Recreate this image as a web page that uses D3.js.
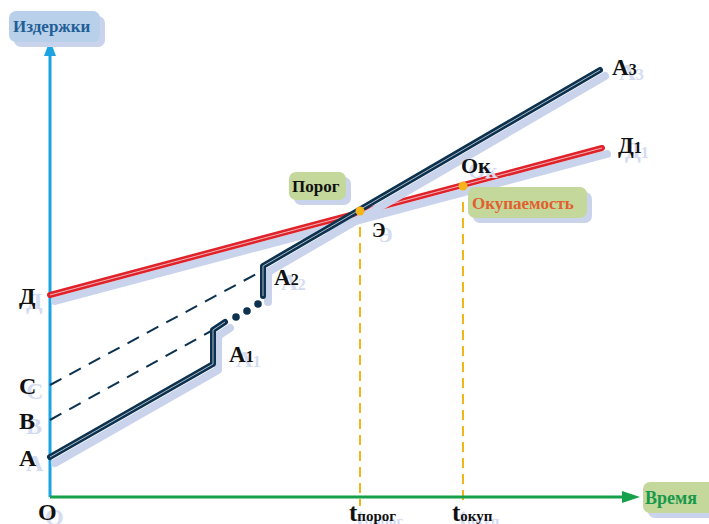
<!DOCTYPE html>
<html>
<head>
<meta charset="utf-8">
<script src="https://cdn.jsdelivr.net/npm/d3@7"></script>
<style>
body { margin: 0; background: #fff; }
text { font-family: "Liberation Serif", "DejaVu Serif", serif; font-weight: bold; }
</style>
</head>
<body>
<div id="chart"></div>
<script>
var svgWidth = 709;
var svgHeight = 524;

// scheme values (conventional units: time / costs)
var levelNames = ["Д", "С", "В", "А"];
var levelValues = [20.2, 11.2, 7.7, 4.0];

var stepLine1 = [[0, 4.0], [16.3, 13.3], [16.3, 16.7], [17.5, 17.5]];
var stepDots = [[18.6, 18.0], [19.7, 18.6], [20.8, 19.3]];
var stepLine2 = [[21.3, 20.1], [21.3, 23.1], [55.0, 42.7]];
var incomeLine = [[0, 20.2], [55.2, 34.9]];
var dashC = [[0, 11.2], [21.0, 22.5]];
var dashB = [[0, 7.7], [16.3, 16.7]];

var keyTimes = [31.0, 41.3];
var keyCosts = [28.6, 31.1];
var keyTickSubs = ["порог", "окуп"];

var xScale = d3.scaleLinear().domain([0, 59]).range([50, 640]);
var yScale = d3.scaleLinear().domain([0, 47.7]).range([497, 20]);

var navy = "#0c3250";
var red = "#e0232b";
var shade = "#c9d3ec";
var gold = "#f4b41a";

var svg = d3.select("#chart")
    .append("svg")
    .attr("width", svgWidth)
    .attr("height", svgHeight);

var line = d3.line()
    .x(d => xScale(d[0]))
    .y(d => yScale(d[1]));

function labelBox(x, y, w, h, fill) {
    svg.append("rect")
        .attr("x", x + 5).attr("y", y + 5)
        .attr("width", w).attr("height", h)
        .attr("rx", 7)
        .attr("fill", shade);
    svg.append("rect")
        .attr("x", x).attr("y", y)
        .attr("width", w).attr("height", h)
        .attr("rx", 7)
        .attr("fill", fill);
}

function label(x, y, main, sub, size, subSize, color) {
    [[7, 5, "#d3dcf0"], [0, 0, color]].forEach(function(s) {
        var t = svg.append("text")
            .attr("x", x + s[0])
            .attr("y", y + s[1])
            .attr("fill", s[2])
            .style("font-size", size + "px");
        t.append("tspan").text(main);
        if (sub) {
            t.append("tspan").style("font-size", subSize + "px").text(sub);
        }
    });
}

function thickLine(pts, color) {
    svg.append("path")
        .attr("d", line(pts))
        .attr("transform", "translate(5,6)")
        .attr("fill", "none")
        .attr("stroke", shade)
        .attr("stroke-width", 8)
        .attr("stroke-linejoin", "round")
        .attr("stroke-linecap", "round");
    svg.append("path")
        .attr("d", line(pts))
        .attr("fill", "none")
        .attr("stroke", color)
        .attr("stroke-width", 6)
        .attr("stroke-linejoin", "round")
        .attr("stroke-linecap", "round");
    svg.append("path")
        .attr("d", line(pts))
        .attr("fill", "none")
        .attr("stroke", "#f4f4f4")
        .attr("stroke-width", 0.7);
}

// axis arrows
var x0 = xScale(0), y0 = yScale(0);
svg.append("line")
    .attr("x1", x0).attr("y1", y0)
    .attr("x2", x0).attr("y2", 50)
    .attr("stroke", "#1ca3e2").attr("stroke-width", 3);
svg.append("path")
    .attr("d", `M${x0 - 6},56 L${x0},40 L${x0 + 6},56 Z`)
    .attr("fill", "#1ca3e2");

// yellow guides
keyTimes.forEach(function(t, i) {
    svg.append("line")
        .attr("x1", xScale(t)).attr("x2", xScale(t))
        .attr("y1", yScale(keyCosts[i])).attr("y2", y0 + 9)
        .attr("stroke", gold)
        .attr("stroke-width", 2)
        .attr("stroke-dasharray", "10,6");
});

svg.append("line")
    .attr("x1", x0).attr("y1", y0)
    .attr("x2", 626).attr("y2", y0)
    .attr("stroke", "#17a04a").attr("stroke-width", 3);
svg.append("path")
    .attr("d", `M622,${y0 - 6} L640,${y0} L622,${y0 + 6} Z`)
    .attr("fill", "#17a04a");

// dashed reference lines
[dashC, dashB].forEach(function(d) {
    svg.append("path")
        .attr("d", line(d))
        .attr("fill", "none")
        .attr("stroke", navy)
        .attr("stroke-width", 2)
        .attr("stroke-dasharray", "13,9");
});

thickLine(incomeLine, red);
thickLine(stepLine1, navy);
thickLine(stepLine2, navy);

svg.selectAll(".gapdot")
    .data(stepDots)
    .enter()
    .append("circle")
    .attr("cx", d => xScale(d[0]))
    .attr("cy", d => yScale(d[1]))
    .attr("r", 3.8)
    .attr("fill", navy);

keyTimes.forEach(function(t, i) {
    svg.append("circle")
        .attr("cx", xScale(t))
        .attr("cy", yScale(keyCosts[i]))
        .attr("r", 4.5)
        .attr("fill", gold);
});

// boxes
labelBox(9, 11, 91, 31, "#b9d0ea");
svg.append("text")
    .attr("x", 13).attr("y", 32)
    .attr("fill", "#1f5e96")
    .style("font-size", "17px")
    .text("Издержки");

labelBox(643, 482, 75, 31, "#c4d89c");
svg.append("text")
    .attr("x", 645).attr("y", 504)
    .attr("fill", "#18994a")
    .style("font-size", "18px")
    .text("Время");

labelBox(289, 172, 57, 28, "#c4d89c");
svg.append("text")
    .attr("x", 292).attr("y", 192)
    .attr("fill", "#111")
    .style("font-size", "17px")
    .text("Порог");

labelBox(468, 187, 119, 31, "#c4d89c");
svg.append("text")
    .attr("x", 472).attr("y", 209)
    .attr("fill", "#e0602e")
    .style("font-size", "17px")
    .text("Окупаемость");

// level labels on the cost axis
levelNames.forEach(function(n, i) {
    label(19, yScale(levelValues[i]) + 9, n, null, 24, 0, "#111");
});
label(38, 520, "О", null, 24, 0, "#111");

// time labels
keyTimes.forEach(function(t, i) {
    label(xScale(t) - 11, 521, "t", keyTickSubs[i], 25, 15, "#111");
});

// line names
label(612, 75, "А", "3", 23, 16, "#111");
label(618, 153, "Д", "1", 23, 16, "#111");
label(274, 285, "А", "2", 23, 16, "#111");
label(229, 362, "А", "1", 23, 16, "#111");
label(372, 237, "Э", null, 20, 0, "#111");
label(461, 173, "Ок", null, 22, 0, "#111");
</script>
</body>
</html>
